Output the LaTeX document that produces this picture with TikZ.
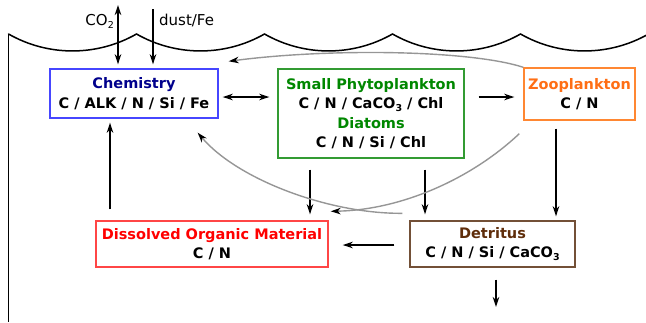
\documentclass[tikz,border=0pt]{standalone}
\usepackage{fontspec}
\setmainfont{DejaVu Sans}
\usetikzlibrary{arrows.meta}
\definecolor{chemc}{RGB}{70,70,255}
\definecolor{chemt}{RGB}{0,0,140}
\definecolor{phyc}{RGB}{50,155,50}
\definecolor{phyt}{RGB}{0,135,0}
\definecolor{zooc}{RGB}{255,135,50}
\definecolor{zoot}{RGB}{255,110,20}
\definecolor{domc}{RGB}{255,70,70}
\definecolor{domt}{RGB}{255,0,0}
\definecolor{detc}{RGB}{115,80,55}
\definecolor{dett}{RGB}{95,45,10}
\definecolor{flowgrey}{RGB}{150,150,150}
\newcommand{\mysub}[1]{\raisebox{-3pt}{\fontsize{9.5}{10}\selectfont #1}}
\tikzset{
  box/.style={draw, line width=1.4pt, inner sep=0pt, align=center,
    font=\fontsize{14.5}{19.5}\selectfont\bfseries},
  tip/.style={},
  flow/.style={line width=1.5pt, -{Stealth[length=10pt,width=6.5pt,inset=3pt]}},
  dflow/.style={line width=1.5pt, {Stealth[length=10pt,width=6.5pt,inset=3pt]}-{Stealth[length=10pt,width=6.5pt,inset=3pt]}},
  gflow/.style={line width=1.4pt, draw=flowgrey, -{Stealth[length=10pt,width=6.5pt,inset=3pt,black]}},
  lbl/.style={inner sep=0pt, font=\fontsize{15}{18}\selectfont},
}
\begin{document}
\begin{tikzpicture}[x=1pt,y=-1pt]
\useasboundingbox (0,0) rectangle (646,322);
\begin{scope}
\clip (0,0) rectangle (646,322);
\foreach \a in {8.5,136.5,264.5,392.5,520.5}
  \draw[line width=1.5pt, line cap=round] (\a,34) .. controls (\a+39.7,56.6) and (\a+88.3,56.6) .. (\a+128,34);
\end{scope}
\draw[line width=1.5pt] (8.5,34) -- (8.5,322);

% boxes
\node[box, draw=chemc, minimum width=168pt, minimum height=49pt] (chem) at (134,93.5)
  {\textcolor{chemt}{Chemistry}\\C / ALK / N / Si / Fe};
\node[box, draw=phyc, minimum width=186pt, minimum height=89pt] (phyto) at (371,113.5)
  {\textcolor{phyt}{Small Phytoplankton}\\C / N / CaCO\mysub{3} / Chl\\\textcolor{phyt}{Diatoms}\\C / N / Si / Chl};
\node[box, draw=zooc, minimum width=111pt, minimum height=52pt] (zoo) at (579.5,94)
  {\textcolor{zoot}{Zooplankton}\\C / N};
\node[box, draw=domc, minimum width=232pt, minimum height=46pt] (dom) at (212,244)
  {\textcolor{domt}{Dissolved Organic Material}\\C / N};
\node[box, draw=detc, minimum width=165pt, minimum height=46pt] (det) at (492.5,244)
  {\textcolor{dett}{Detritus}\\C / N / Si / CaCO\mysub{3}};

% labels
\node[lbl, anchor=east] (co2) at (114,21) {CO\mysub{2}};
\node[lbl, anchor=west] (dust) at (159,20) {dust/Fe};
\coordinate (co2top) at (118,5);
\coordinate (dusttop) at (153,9);
\coordinate (sink) at (496,307);

% black arrows
\draw[dflow] (co2top) -- ([xshift=-16pt,yshift=4pt]chem.north);
\draw[flow] (dusttop) -- ([xshift=19pt,yshift=4pt]chem.north);
\draw[dflow] ([xshift=4pt,yshift=-3.5pt]chem.east) -- ([xshift=-8pt,yshift=16.5pt]phyto.west);
\draw[flow] ([xshift=14pt,yshift=16.5pt]phyto.east) -- ([xshift=-9pt,yshift=-3pt]zoo.west);
\draw[flow] ([xshift=-23.5pt,yshift=-8pt]zoo.south) -- ([xshift=63.5pt,yshift=4pt]det.north);
\draw[flow] ([xshift=3.5pt,yshift=-12pt]det.south) -- (sink);
\draw[flow] ([xshift=-15pt,yshift=-1pt]det.west) -- ([xshift=14pt,yshift=-1pt]dom.east);
\draw[flow] ([xshift=-102pt,yshift=11pt]dom.north) -- ([xshift=-24pt,yshift=-4pt]chem.south);
\draw[flow] ([xshift=-61pt,yshift=-11pt]phyto.south) -- ([xshift=98pt,yshift=6pt]dom.north);
\draw[flow] ([xshift=54pt,yshift=-11pt]phyto.south) -- ([xshift=-67.5pt,yshift=6pt]det.north);

% grey curves
\draw[gflow] (zoo.north west) .. controls (470,50) and (330,48) .. ([xshift=10pt,yshift=7pt]chem.north east);
\draw[gflow] ([xshift=-7pt,yshift=7pt]det.north west) .. controls (330,214) and (238,180) .. ([xshift=-21pt,yshift=-14pt]chem.south east);
\draw[gflow] ([xshift=-4pt,yshift=-13pt]zoo.south west) .. controls (470,180) and (400,210) .. ([xshift=2pt,yshift=9pt]dom.north east);
\end{tikzpicture}
\end{document}
